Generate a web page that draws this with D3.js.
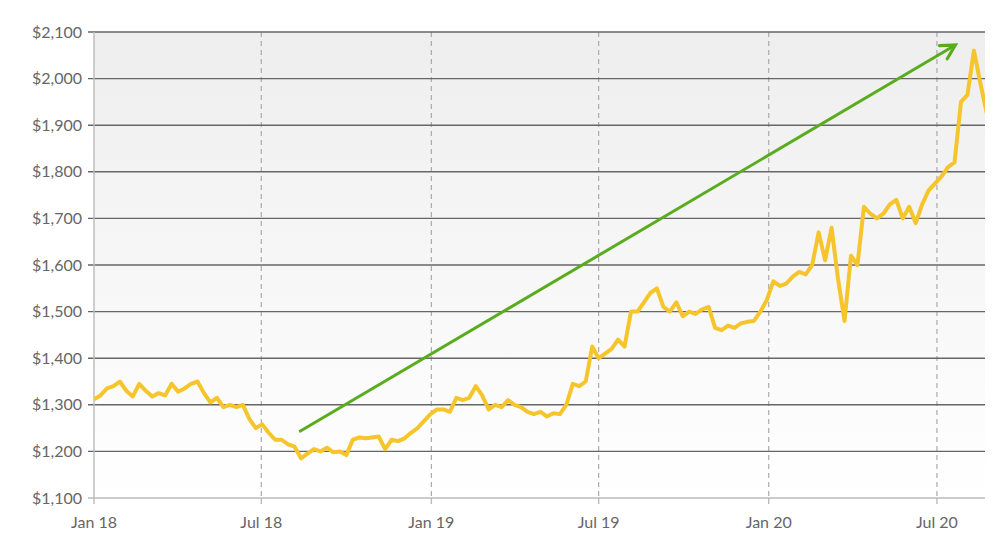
<!DOCTYPE html>
<html><head><meta charset="utf-8">
<script src="https://cdn.jsdelivr.net/npm/d3@7"></script>
<style>body{margin:0;background:#fff}svg{display:block}text{font-family:Lato,"Open Sans",sans-serif}</style>
</head><body><svg id="c" width="1000" height="544"></svg>
<script>
const startDate = "2018-01-01";
const prices = [1312,1320,1335,1340,1350,1330,1318,1345,1330,1318,1325,1320,1345,1328,1335,1345,1350,1325,1305,1315,1295,1300,1295,1300,1270,1250,1258,1240,1225,1225,1215,1210,1185,1195,1205,1200,1208,1198,1200,1192,1225,1230,1228,1230,1232,1205,1225,1222,1228,1240,1250,1265,1280,1290,1290,1285,1315,1310,1315,1340,1320,1290,1300,1295,1310,1300,1295,1285,1280,1285,1275,1282,1280,1300,1345,1340,1350,1425,1400,1410,1420,1440,1425,1500,1500,1520,1540,1550,1510,1500,1520,1490,1500,1495,1505,1510,1465,1460,1470,1465,1475,1478,1480,1500,1525,1565,1555,1560,1575,1585,1580,1600,1670,1610,1680,1570,1480,1620,1600,1725,1710,1700,1710,1730,1740,1700,1725,1690,1730,1760,1775,1790,1810,1820,1950,1965,2060,1990,1925];
const yTicks = [1100,1200,1300,1400,1500,1600,1700,1800,1900,2000,2100];
const xTickDates = ["2018-01-01","2018-07-01","2019-01-01","2019-07-01","2020-01-01","2020-07-01"];
const xTickLabels = ["Jan 18","Jul 18","Jan 19","Jul 19","Jan 20","Jul 20"];
const arrowStart = ["2018-08-11",1242];
const arrowEnd = ["2020-07-21",2072];

const parse = d3.timeParse("%Y-%m-%d");
const t0 = parse(startDate);
const data = prices.map((p,i)=>({d:d3.timeDay.offset(t0,i*7),p}));
const L=94,R=985,T=32,B=498;
const x = d3.scaleTime().domain([parse("2018-01-01"),parse("2020-08-22")]).range([L,R]);
const y = d3.scaleLinear().domain([1100,2100]).range([B,T]);
const svg = d3.select("#c");
const defs = svg.append("defs");
const g = defs.append("linearGradient").attr("id","bg").attr("x1",0).attr("x2",0).attr("y1",0).attr("y2",1);
g.append("stop").attr("offset",0).attr("stop-color","#eeeeee");
g.append("stop").attr("offset",1).attr("stop-color","#ffffff");
defs.append("clipPath").attr("id","cp").append("rect").attr("x",L).attr("y",0).attr("width",R-L).attr("height",544);
svg.append("rect").attr("x",L).attr("y",T).attr("width",R-L).attr("height",B-T).attr("fill","url(#bg)");
svg.selectAll(".vg").data(xTickDates.slice(1)).join("line").attr("x1",d=>x(parse(d))).attr("x2",d=>x(parse(d)))
 .attr("y1",T).attr("y2",B).attr("stroke","#aaa").attr("stroke-dasharray","5,4").attr("stroke-width",1.2);
svg.selectAll(".hg").data(yTicks.slice(1)).join("line").attr("x1",L-6).attr("x2",R).attr("y1",d=>y(d)).attr("y2",d=>y(d))
 .attr("stroke","#666").attr("stroke-width",1.4);
svg.append("line").attr("x1",L-6).attr("x2",R).attr("y1",B).attr("y2",B).attr("stroke","#bbb").attr("stroke-width",1.4);
svg.append("line").attr("x1",L).attr("x2",L).attr("y1",T).attr("y2",B).attr("stroke","#bbb").attr("stroke-width",1.4);
svg.selectAll(".yl").data(yTicks).join("text").attr("x",L-12).attr("y",d=>y(d)+5.5).attr("text-anchor","end")
 .attr("fill","#666").attr("font-size",16).text(d=>"$"+d3.format(",")(d));
svg.selectAll(".xt").data(xTickDates).join("line").attr("x1",d=>x(parse(d))).attr("x2",d=>x(parse(d)))
 .attr("y1",B).attr("y2",B+6).attr("stroke","#bbb").attr("stroke-width",1.4);
svg.selectAll(".xl").data(xTickDates).join("text").attr("x",d=>x(parse(d))).attr("y",B+30).attr("text-anchor","middle")
 .attr("fill","#666").attr("font-size",16).text((d,i)=>xTickLabels[i]);
svg.append("path").datum(data).attr("clip-path","url(#cp)").attr("fill","none").attr("stroke","#f5c52b").attr("stroke-width",4).attr("stroke-linejoin","round")
 .attr("d",d3.line().x(d=>x(d.d)).y(d=>y(d.p)));
const ax1=x(parse(arrowStart[0])),ay1=y(arrowStart[1]),ax2=x(parse(arrowEnd[0])),ay2=y(arrowEnd[1]);
svg.append("line").attr("x1",ax1).attr("y1",ay1).attr("x2",ax2).attr("y2",ay2).attr("stroke","#5aac1f").attr("stroke-width",3);
const ang=Math.atan2(ay2-ay1,ax2-ax1),hl=16;
const pts=[[ax2-hl*Math.cos(ang-0.5),ay2-hl*Math.sin(ang-0.5)],[ax2,ay2],[ax2-hl*Math.cos(ang+0.5),ay2-hl*Math.sin(ang+0.5)]];
svg.append("polyline").attr("points",pts.map(p=>p.join(",")).join(" ")).attr("fill","none").attr("stroke","#5aac1f").attr("stroke-width",3.2).attr("stroke-linecap","round");
</script></body></html>
